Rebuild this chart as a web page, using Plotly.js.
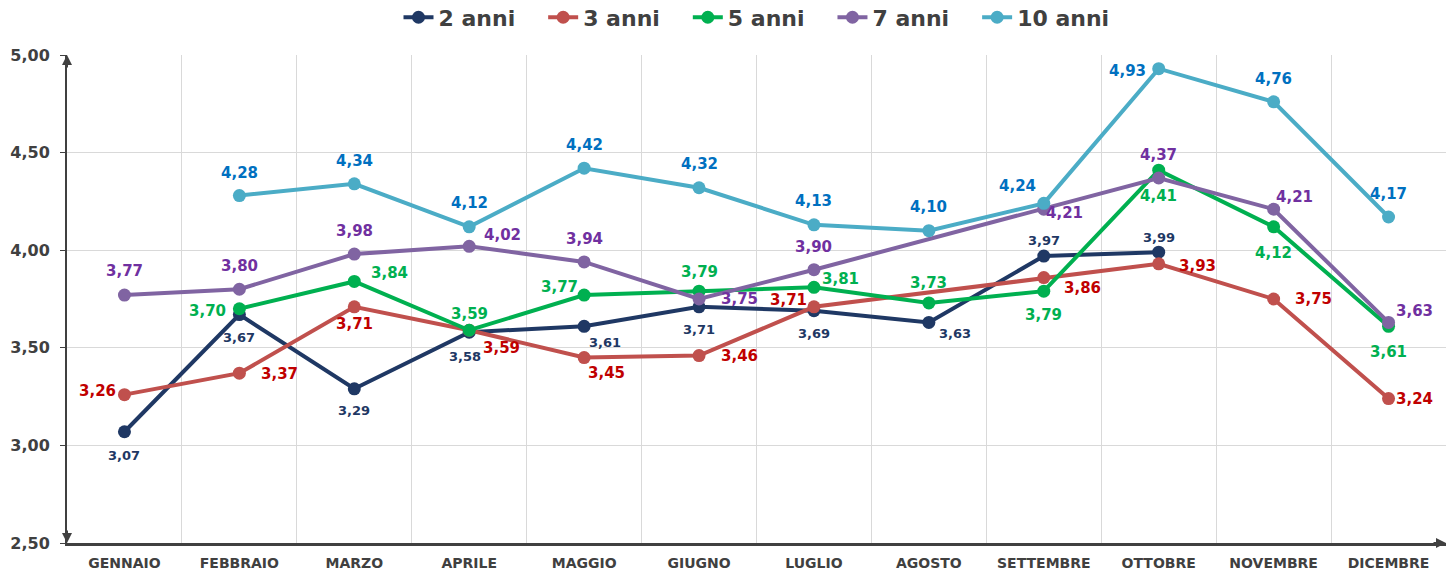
<!DOCTYPE html>
<html>
<head>
<meta charset="utf-8">
<script src="https://cdn.plot.ly/plotly-3.0.1.min.js"></script>
<style>html,body{margin:0;padding:0;background:#fff;}#chart{width:1448px;height:575px;}</style>
</head>
<body>
<div id="chart"></div>
<script>
const months = ["GENNAIO","FEBBRAIO","MARZO","APRILE","MAGGIO","GIUGNO","LUGLIO","AGOSTO","SETTEMBRE","OTTOBRE","NOVEMBRE","DICEMBRE"];
const seriesNames = ["2 anni","3 anni","5 anni","7 anni","10 anni"];
const anni2  = [3.07, 3.67, 3.29, 3.58, 3.61, 3.71, 3.69, 3.63, 3.97, 3.99, null, null];
const anni3  = [3.26, 3.37, 3.71, 3.59, 3.45, 3.46, 3.71, null, 3.86, 3.93, 3.75, 3.24];
const anni5  = [null, 3.70, 3.84, 3.59, 3.77, 3.79, 3.81, 3.73, 3.79, 4.41, 4.12, 3.61];
const anni7  = [3.77, 3.80, 3.98, 4.02, 3.94, 3.75, 3.90, null, 4.21, 4.37, 4.21, 3.63];
const anni10 = [null, 4.28, 4.34, 4.12, 4.42, 4.32, 4.13, 4.10, 4.24, 4.93, 4.76, 4.17];
const allSeries = [anni2, anni3, anni5, anni7, anni10];

// styles
const lineColors  = ["#1F3864", "#C0504D", "#00B050", "#8064A2", "#4BACC6"];
const labelColors = ["#1F3864", "#C00000", "#00B050", "#7030A0", "#0070C0"];
const labelSizes  = [13, 15, 15, 15, 15];
// label pixel offsets [dx, dyDown] per point
const labelOffsets = [
  [[0,24],[0,23],[0,22],[-4,24],[21,16],[0,23],[0,23],[26,11],[0,-16],[0,-15],null,null],
  [[-27,-4],[40,1],[0,17],[32,18],[22,15],[40,0],[-25,-7],null,[39,10],[39,2],[40,0],[26,0]],
  [null,[-32,2],[35,-8],[0,-16],[-25,-8],[0,-19],[27,-8],[0,-20],[0,24],[0,26],[0,26],[0,26]],
  [[0,-24],[0,-23],[0,-23],[33,-11],[0,-23],[40,0],[0,-23],null,[21,4],[0,-23],[21,-12],[26,-11]],
  [null,[0,-23],[0,-23],[0,-24],[0,-23],[0,-24],[0,-24],[0,-24],[-26,-17],[-31,2],[0,-23],[0,-23]]
];

const fontFam = "'DejaVu Sans', Verdana, sans-serif";
const pad = "\u00a0\u00a0\u00a0";
const traces = allSeries.map((vals, i) => ({
  type: "scatter",
  mode: "lines+markers",
  name: seriesNames[i] + (i < allSeries.length - 1 ? pad : ""),
  x: months,
  y: vals,
  connectgaps: true,
  line: {color: lineColors[i], width: 4},
  marker: {color: lineColors[i], size: 13},
  hoverinfo: "skip"
}));

const annotations = [];
allSeries.forEach((vals, i) => {
  vals.forEach((v, j) => {
    if (v === null) return;
    const off = labelOffsets[i][j] || [0, -22];
    annotations.push({
      x: months[j], y: v, xref: "x", yref: "y",
      text: v.toFixed(2).replace(".", ","),
      showarrow: false,
      xshift: off[0], yshift: -off[1],
      font: {family: fontFam, size: labelSizes[i], color: labelColors[i], weight: "bold"}
    });
  });
});
// axis arrows
annotations.push({xref:"paper", yref:"paper", x:0, y:1, ax:0, ay:14, showarrow:true, arrowhead:2, arrowsize:1, arrowwidth:2, arrowcolor:"#404040", text:""});
annotations.push({xref:"paper", yref:"paper", x:0, y:0, ax:0, ay:-14, showarrow:true, arrowhead:2, arrowsize:1, arrowwidth:2, arrowcolor:"#404040", text:""});
annotations.push({xref:"paper", yref:"paper", x:1, y:0, ax:-14, ay:0, showarrow:true, arrowhead:2, arrowsize:1, arrowwidth:2, arrowcolor:"#404040", text:""});

const layout = {
  width: 1448, height: 575,
  margin: {l: 67, r: 2, t: 55, b: 32, autoexpand: false},
  paper_bgcolor: "#fff", plot_bgcolor: "#fff",
  separators: ",.",
  showlegend: true,
  legend: {
    orientation: "h", x: 0.5, xanchor: "center", y: 1.077, yanchor: "middle",
    font: {family: fontFam, size: 22, color: "#404040", weight: "bold"},
    itemwidth: 30, tracegroupgap: 0
  },
  xaxis: {
    type: "category", range: [-0.5, 11.5], tickson: "boundaries",
    showgrid: true, gridcolor: "#D9D9D9", gridwidth: 1,
    showline: true, linecolor: "#404040", linewidth: 3,
    ticks: "", ticklabelstandoff: 5,
    tickfont: {family: fontFam, size: 14, color: "#404040", weight: "bold"},
    fixedrange: true
  },
  yaxis: {
    range: [2.5, 5.0], dtick: 0.5, tick0: 2.5, tickformat: ".2f",
    showgrid: true, gridcolor: "#D9D9D9", gridwidth: 1,
    showline: true, linecolor: "#404040", linewidth: 2,
    ticks: "outside", ticklen: 5, tickcolor: "#404040", tickwidth: 1,
    ticklabelstandoff: 7,
    tickfont: {family: fontFam, size: 16, color: "#404040", weight: "bold"},
    zeroline: false, fixedrange: true
  },
  annotations: annotations
};

Plotly.newPlot("chart", traces, layout, {displayModeBar: false, staticPlot: true});
</script>
</body>
</html>
